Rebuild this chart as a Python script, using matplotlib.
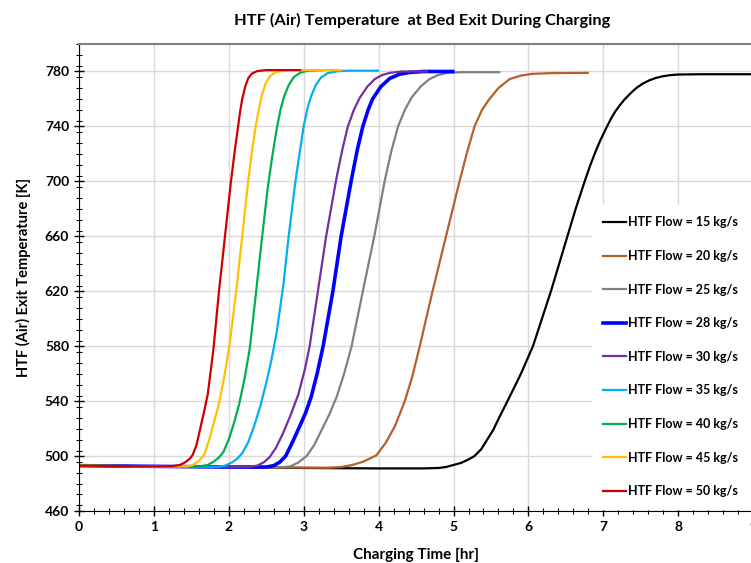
import matplotlib
matplotlib.use("Agg")
import matplotlib.pyplot as plt
from matplotlib.ticker import MultipleLocator

plt.rcParams["font.family"] = ["Lato", "DejaVu Sans"]
plt.rcParams["font.weight"] = "bold"

# values (time in hr, temperature in K)
t15 = [0, 1, 2, 3, 4, 4.6, 4.8, 4.9, 5.0, 5.1, 5.2, 5.28, 5.37, 5.45, 5.53, 5.6, 5.72, 5.82, 5.9, 6.06, 6.18, 6.3, 6.41, 6.52, 6.63, 6.75, 6.82, 6.89, 6.96, 7.04, 7.1, 7.16, 7.22, 7.28, 7.36, 7.44, 7.52, 7.61, 7.7, 7.8, 7.9, 8.0, 8.3, 9.0]
T15 = [493, 492.5, 492, 491.3, 491, 491, 491.3, 492, 493.5, 495, 497.5, 500, 505, 512, 519, 527, 540, 551, 560, 580, 600, 620, 640, 660, 680, 700, 711, 721, 730, 739, 745.5, 751, 755.5, 759.5, 764, 768, 771, 773.5, 775.3, 776.6, 777.4, 777.8, 778, 778]
t20 = [0, 1, 2, 3, 3.3, 3.5, 3.65, 3.8, 3.97, 4.1, 4.22, 4.35, 4.45, 4.55, 4.72, 4.9, 5.08, 5.18, 5.28, 5.38, 5.48, 5.6, 5.75, 5.9, 6.05, 6.3, 6.79]
T20 = [493, 492.5, 492, 491.6, 491.5, 492, 493.5, 496, 500.5, 510, 522, 540, 558, 580, 620, 660, 700, 721, 740, 752, 760, 768, 774.5, 777, 778.3, 778.8, 779]
t25 = [0, 1, 2, 2.7, 2.82, 2.92, 3.04, 3.14, 3.24, 3.34, 3.44, 3.54, 3.64, 3.79, 3.95, 4.08, 4.17, 4.26, 4.35, 4.44, 4.56, 4.68, 4.8, 4.92, 5.1, 5.61]
T25 = [493, 492.5, 492, 491.8, 492.5, 495, 500, 508, 519, 530, 543, 560, 580, 620, 662, 700, 722, 740, 752, 761, 769, 774.5, 777.5, 779, 779.5, 779.5]
t28 = [0, 1, 2, 2.5, 2.6, 2.68, 2.76, 2.85, 2.95, 3.03, 3.1, 3.18, 3.26, 3.39, 3.5, 3.64, 3.72, 3.79, 3.86, 3.92, 4.03, 4.15, 4.28, 4.41, 4.6, 4.99]
T28 = [493, 492.5, 492, 492, 493, 495.5, 500, 510, 522, 532, 543, 560, 580, 620, 660, 702, 724, 740, 752, 760, 769, 775, 778, 779.3, 780, 780]
t30 = [0, 1, 2, 2.25, 2.38, 2.47, 2.55, 2.63, 2.72, 2.82, 2.93, 3.02, 3.08, 3.19, 3.3, 3.44, 3.52, 3.59, 3.67, 3.75, 3.85, 3.95, 4.05, 4.15, 4.3, 4.65]
T30 = [493, 492.5, 492, 492, 493, 495.5, 499.5, 506, 516, 529, 545, 564, 580, 620, 660, 703, 724, 740, 752, 761, 769, 774.5, 777.5, 779, 780, 780]
t35 = [0, 1, 1.85, 1.95, 2.05, 2.12, 2.18, 2.26, 2.34, 2.42, 2.5, 2.57, 2.64, 2.73, 2.8, 2.89, 2.95, 3.0, 3.05, 3.1, 3.16, 3.23, 3.32, 3.45, 3.6, 3.99]
T35 = [493, 492.5, 492.2, 493, 495.5, 498.5, 502, 510, 522, 536, 553, 570, 590, 625, 660, 700, 722, 740, 753, 762, 770, 775.5, 778.8, 780.2, 780.6, 780.6]
t40 = [0, 1, 1.6, 1.72, 1.8, 1.87, 1.93, 2.0, 2.07, 2.14, 2.21, 2.28, 2.35, 2.43, 2.52, 2.58, 2.64, 2.69, 2.74, 2.8, 2.87, 2.95, 3.05, 3.25]
T40 = [493, 492.5, 492.3, 493.5, 496, 499, 503, 512, 524, 538, 556, 578, 612, 652, 695, 718, 738, 752, 762, 770, 776, 779, 780.5, 781]
t45 = [0, 1, 1.45, 1.52, 1.58, 1.63, 1.68, 1.74, 1.8, 1.86, 1.92, 1.97, 2.02, 2.1, 2.17, 2.26, 2.31, 2.36, 2.4, 2.44, 2.49, 2.55, 2.62, 2.72, 2.85, 3.5]
T45 = [493, 492.5, 492.5, 493.5, 495.5, 498, 502, 512, 524, 536, 552, 567, 585, 620, 655, 700, 722, 740, 752, 762, 771, 776.5, 779.3, 780.5, 781, 781]
t50 = [0, 1, 1.25, 1.35, 1.42, 1.48, 1.52, 1.57, 1.62, 1.67, 1.72, 1.76, 1.8, 1.87, 1.95, 2.03, 2.08, 2.12, 2.15, 2.18, 2.22, 2.26, 2.31, 2.38, 2.5, 2.95]
T50 = [493, 492.5, 492.7, 493.5, 495.5, 498, 501, 508, 520, 532, 545, 562, 580, 620, 660, 700, 722, 738, 750, 760, 769, 775, 778.5, 780.3, 781, 781]

labels = ["HTF Flow = 15 kg/s", "HTF Flow = 20 kg/s", "HTF Flow = 25 kg/s",
          "HTF Flow = 28 kg/s", "HTF Flow = 30 kg/s", "HTF Flow = 35 kg/s",
          "HTF Flow = 40 kg/s", "HTF Flow = 45 kg/s", "HTF Flow = 50 kg/s"]
colors = ["#000000", "#B4602A", "#808080", "#0000FF", "#7030A0",
          "#00B0F0", "#00B050", "#FFC000", "#CC0000"]
widths = [1.6, 1.6, 1.6, 2.6, 1.6, 1.6, 1.6, 1.6, 1.6]

series = [(t15, T15), (t20, T20), (t25, T25), (t28, T28), (t30, T30),
          (t35, T35), (t40, T40), (t45, T45), (t50, T50)]

fig = plt.figure(figsize=(7.51, 5.63), dpi=100)
ax = fig.add_axes([0.105, 0.0924, 0.898, 0.8294])

for (t, T), lab, c, w in zip(series, labels, colors, widths):
    ax.plot(t, T, color=c, lw=w, label=lab, solid_joinstyle="round")

ax.set_xlim(0, 9)
ax.set_ylim(460, 800)
ax.set_yticks(range(460, 781, 40))
ax.xaxis.set_major_locator(MultipleLocator(1))
ax.xaxis.set_minor_locator(MultipleLocator(0.2))
ax.yaxis.set_minor_locator(MultipleLocator(8))
ax.grid(True, which="major", color="#D9D9D9", lw=1)
ax.set_axisbelow(True)
ax.tick_params(which="major", direction="inout", length=7, width=1, labelsize=10)
ax.tick_params(which="minor", direction="inout", length=4, width=0.8)
for lab in ax.get_xticklabels() + ax.get_yticklabels():
    lab.set_fontweight("bold")
ax.spines["top"].set_color("#808080")
ax.spines["top"].set_linewidth(1.5)
ax.spines["right"].set_visible(False)

ax.set_xlabel("Charging Time [hr]", fontsize=11, fontweight="bold", labelpad=11)
ax.set_ylabel("HTF (Air) Exit Temperature [K]", fontsize=10.5, fontweight="bold", labelpad=10)
fig.text(0.562, 0.963, "HTF (Air) Temperature  at Bed Exit During Charging",
         ha="center", va="center", fontsize=11.8, fontweight="bold")

leg = ax.legend(loc="upper left", bbox_to_anchor=(592 / 751, 1 - 205 / 563),
                bbox_transform=fig.transFigure, borderaxespad=0, frameon=True,
                fancybox=False, edgecolor="white", framealpha=1, borderpad=0.9,
                fontsize=9, labelspacing=1.73, handlelength=1.8, handletextpad=0.2)
for txt in leg.get_texts():
    txt.set_fontweight("bold")

fig.savefig("out.png", dpi=100)
